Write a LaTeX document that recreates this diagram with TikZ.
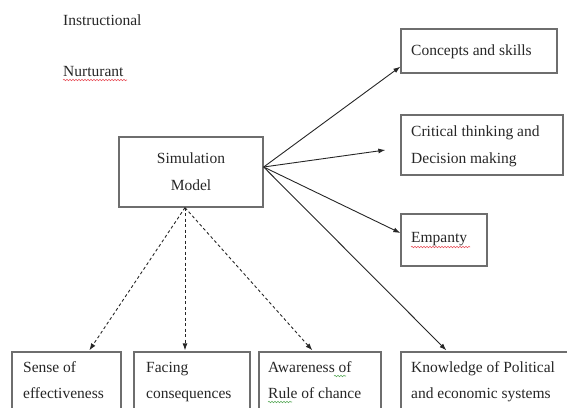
\documentclass[tikz,border=0pt]{standalone}
\usepackage{fontspec}
\setmainfont{Liberation Serif}
\usetikzlibrary{calc,arrows.meta,decorations.pathmorphing}
\definecolor{boxgray}{HTML}{6E6E6E}
\definecolor{inkdark}{HTML}{262626}
\definecolor{spellred}{HTML}{E8505A}
\definecolor{spellgreen}{HTML}{5AAA5A}
\begin{document}
\begin{tikzpicture}[x=1pt,y=-1pt,
  box/.style={draw=boxgray, line width=1.3pt, inner sep=0pt},
  lbl/.style={anchor=base west, inner sep=0pt, text=inkdark, font=\fontsize{15.5}{18}\selectfont},
  clbl/.style={anchor=base, inner sep=0pt, text=inkdark, font=\fontsize{15.5}{18}\selectfont},
  link/.style={draw=inkdark, line width=0.9pt, -{Latex[length=7pt,width=5pt]}},
  dlink/.style={link, dash pattern=on 3pt off 2.5pt},
  squig/.style={line width=0.6pt, decorate, decoration={snake, segment length=3pt, amplitude=0.7pt}}]
\useasboundingbox (0,0) rectangle (567,407);
\clip (0,0) rectangle (567,407);

% free labels
\node[lbl] (instr) at (63,25) {Instructional};
\node[lbl] (nurt) at (63,76) {Nurturant};
\draw[spellred, squig] (63,80) -- (127,80);

% central box
\node[box, minimum width=144pt, minimum height=70pt] (sim) at (191,172) {};
\node[clbl] (sim1) at (191,163) {Simulation};
\node[clbl] (sim2) at (191,190) {Model};

% outcome boxes on the right
\node[box, minimum width=156pt, minimum height=44pt] (concepts) at (479,51) {};
\node[lbl] (conc1) at (411,55) {Concepts and skills};

\node[box, minimum width=162pt, minimum height=60pt] (critical) at (482,145) {};
\node[lbl] (crit1) at (411,136) {Critical thinking and};
\node[lbl] (crit2) at (411,163) {Decision making};

\node[box, minimum width=86pt, minimum height=52pt] (empathy) at (444,240) {};
\node[lbl] (emp1) at (411,242) {Empanty};
\draw[spellred, squig] (411,247) -- (470,247);

% outcome boxes along the bottom (run past the lower edge)
\node[box, minimum width=109pt, minimum height=80pt] (sense) at (66.5,392) {};
\node[lbl] (sen1) at (23,372) {Sense of};
\node[lbl] (sen2) at (23,398) {effectiveness};

\node[box, minimum width=116pt, minimum height=80pt] (facing) at (192,392) {};
\node[lbl] (fac1) at (146,372) {Facing};
\node[lbl] (fac2) at (146,398) {consequences};

\node[box, minimum width=122pt, minimum height=80pt] (aware) at (320,392) {};
\node[lbl] (aw1) at (268,372) {Awareness of};
\node[lbl] (aw2) at (268,398) {Rule of chance};
\draw[spellgreen, squig] (334,376) -- (346,376);
\draw[spellgreen, squig] (268,402) -- (292,402);

\node[box, minimum width=171pt, minimum height=80pt] (know) at (486.5,392) {};
\node[lbl] (kn1) at (411,372) {Knowledge of Political};
\node[lbl] (kn2) at (411,398) {and economic systems};

% connectors
\coordinate (simr) at ($(sim.east)+(0,-5)$);
\coordinate (simb) at ($(sim.south)+(-6,0)$);
\draw[link] (simr) -- ($(concepts.south west)+(0,-7)$);
\draw[link] (simr) -- ($(critical.west)+(-15,5)$);
\draw[link] (simr) -- ($(empathy.west)+(0,-7)$);
\draw[link] (simr) -- ($(know.north west)+(46,-1)$);
\draw[dlink] (simb) -- ($(sense.north west)+(78,-1)$);
\draw[dlink] (simb) -- ($(facing.north)+(-7,-1)$);
\draw[dlink] (simb) -- ($(aware.north west)+(54,-1)$);
\end{tikzpicture}
\end{document}
